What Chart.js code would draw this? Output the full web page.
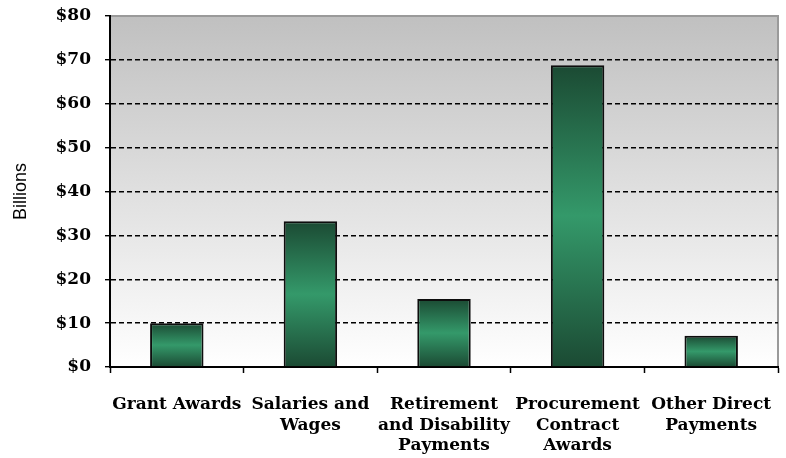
<!DOCTYPE html>
<html>
<head>
<meta charset="utf-8">
<script src="https://cdn.jsdelivr.net/npm/chart.js@4/dist/chart.umd.min.js"></script>
<style>
  html, body { margin: 0; padding: 0; background: #fff; }
  #wrap { width: 786px; height: 458px; }
</style>
</head>
<body>
<div id="wrap"><canvas id="c"></canvas></div>
<script>
// ── Data ──────────────────────────────────────────────────────
const categories = [
  ['Grant Awards'],
  ['Salaries and', 'Wages'],
  ['Retirement', 'and Disability', 'Payments'],
  ['Procurement', 'Contract', 'Awards'],
  ['Other Direct', 'Payments'],
];
const spending = [10, 33.2, 15.5, 68.8, 7.1];   // billions of dollars
const yTicks   = [0, 10, 20, 30, 40, 50, 60, 70, 80];

const SERIF = "'DejaVu Serif', 'Liberation Serif', serif";
const BAR_DARK  = '#1b4a33';
const BAR_LIGHT = '#34996a';

// ── Plot background: grey-to-white fill plus grey frame ───────
const plotBg = {
  id: 'plotBg',
  beforeDraw(chart) {
    const { ctx, chartArea: a } = chart;
    const g = ctx.createLinearGradient(0, a.top, 0, a.bottom);
    g.addColorStop(0, '#c0c0c0');
    g.addColorStop(1, '#ffffff');
    ctx.save();
    ctx.fillStyle = g;
    ctx.fillRect(a.left, a.top, a.right - a.left, a.bottom - a.top);
    ctx.strokeStyle = '#9a9a9a';
    ctx.lineWidth = 2;
    ctx.beginPath();
    ctx.moveTo(a.left, a.top);
    ctx.lineTo(a.right, a.top);
    ctx.lineTo(a.right, a.bottom);
    ctx.stroke();
    ctx.restore();
  },
};

function barFill(c) {
  const chart = c.chart;
  if (!chart.chartArea || c.raw === undefined) return BAR_LIGHT;
  const y   = chart.scales.y;
  const top = y.getPixelForValue(c.raw);
  const bot = y.getPixelForValue(0);
  const g = chart.ctx.createLinearGradient(0, top, 0, bot);
  g.addColorStop(0,   BAR_DARK);
  g.addColorStop(0.5, BAR_LIGHT);
  g.addColorStop(1,   BAR_DARK);
  return g;
}

new Chart(document.getElementById('c'), {
  type: 'bar',
  data: {
    labels: categories,
    datasets: [{
      data: spending,
      backgroundColor: barFill,
      borderColor: '#0d0d0d',
      borderWidth: 2,
      categoryPercentage: 1,
      barPercentage: 0.4,
    }],
  },
  plugins: [plotBg],
  options: {
    responsive: true,
    maintainAspectRatio: false,
    animation: false,
    layout: { padding: { left: 0, right: 8, top: 16, bottom: 0 } },
    plugins: { legend: { display: false }, tooltip: { enabled: false } },
    scales: {
      x: {
        grid: { offset: true, drawOnChartArea: false, tickLength: 6, tickColor: '#000', tickWidth: 1.5 },
        border: { color: '#000', width: 2 },
        ticks: {
          color: '#000',
          padding: 22,
          maxRotation: 0,
          autoSkip: false,
          font: { family: SERIF, weight: 'bold', size: 17, lineHeight: 1.18 },
        },
        afterFit(scale) {
          scale.height = 91;
          scale.paddingLeft = 0;
          scale.paddingRight = 0;
        },
      },
      y: {
        min: 0,
        max: 80,
        afterBuildTicks(scale) { scale.ticks = yTicks.map(v => ({ value: v })); },
        grid: {
          color: c => (c.tick && c.tick.value === 80) ? 'rgba(0,0,0,0)' : '#000',
          lineWidth: 1.4,
          tickLength: 5,
          tickColor: '#000',
          tickBorderDash: [],
        },
        border: { color: '#000', width: 2, dash: [5, 3] },
        ticks: {
          color: '#000',
          padding: 14,
          font: { family: SERIF, weight: 'bold', size: 17 },
          callback: v => '$' + v,
        },
        title: {
          display: true,
          text: 'Billions',
          color: '#000',
          font: { family: "'Liberation Sans', Arial, sans-serif", size: 18 },
          padding: { top: 10, bottom: 0 },
        },
        afterFit(scale) {
          scale.width = 110;
          scale.paddingTop = 0;
          scale.paddingBottom = 0;
        },
      },
    },
  },
});
</script>
</body>
</html>
